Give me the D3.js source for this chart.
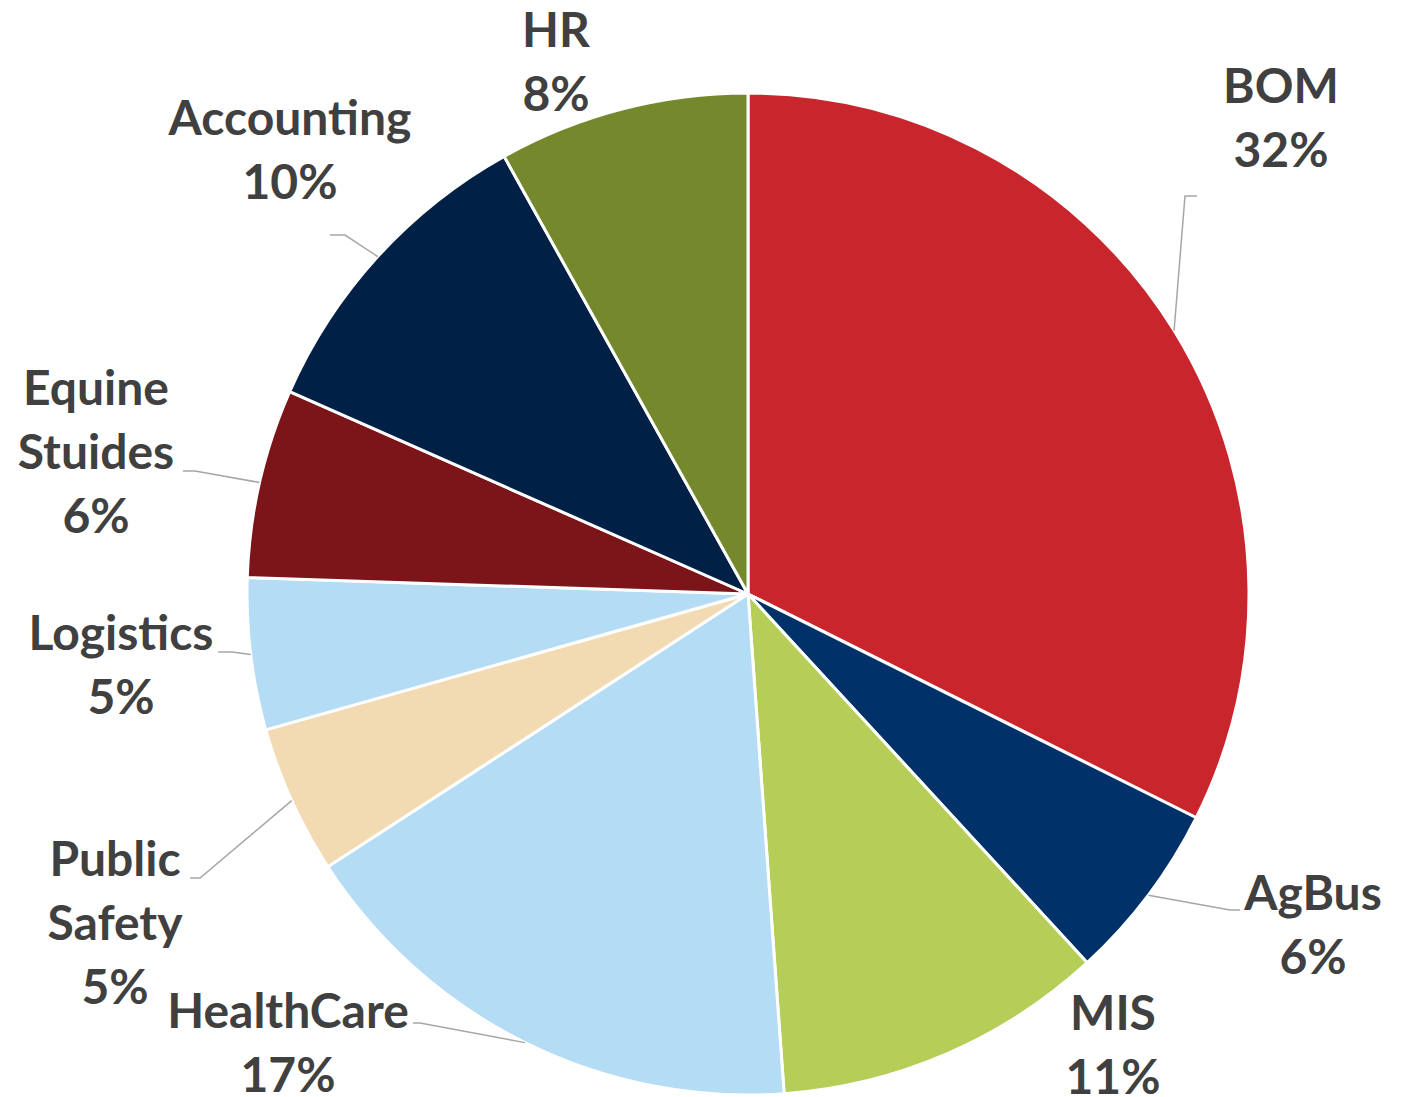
<!DOCTYPE html>
<html>
<head>
<meta charset="utf-8">
<script src="https://cdn.jsdelivr.net/npm/d3@7"></script>
<style>
  html, body { margin: 0; padding: 0; background: #fff; }
  svg { display: block; }
  .label { font-family: Lato, "Open Sans", sans-serif; font-weight: 700; fill: #404040; }
</style>
</head>
<body>
<figure id="pie" style="margin:0"></figure>
<script>
// departments, clockwise from 12 o'clock
const departments = ["BOM", "AgBus", "MIS", "HealthCare", "Public Safety", "Logistics", "Equine Stuides", "Accounting", "HR"];
// share of total (percent)
const shares = [32.4, 5.8, 10.7, 17.0, 4.8, 4.9, 6.1, 10.3, 8.1];
const sliceColors = ["#C8252D", "#003269", "#B5CE58", "#B4DCF4", "#F2DAB2", "#B4DCF4", "#7B151A", "#002046", "#73892C"];

// label placement: centre x, first baseline y, word-wrapped lines, leader elbow
const labelLayout = {
  "BOM":            { x: 1281, y: 103, lines: ["BOM"], elbow: [1185, 196], end: 1197 },
  "AgBus":          { x: 1313, y: 910, lines: ["AgBus"], elbow: [1230, 910], end: 1240 },
  "MIS":            { x: 1113, y: 1030, lines: ["MIS"] },
  "HealthCare":     { x: 288, y: 1028, lines: ["HealthCare"], elbow: [420, 1023], end: 413 },
  "Public Safety":  { x: 115, y: 876, lines: ["Public", "Safety"], elbow: [200, 878], end: 190 },
  "Logistics":      { x: 121, y: 650, lines: ["Logistics"], elbow: [232, 652], end: 218 },
  "Equine Stuides": { x: 96, y: 405, lines: ["Equine", "Stuides"], elbow: [195, 471], end: 183 },
  "Accounting":     { x: 290, y: 135, lines: ["Accounting"], elbow: [345, 235], end: 330 },
  "HR":             { x: 556, y: 47, lines: ["HR"] }
};

const width = 1408, height = 1097;
const cx = 748, cy = 594, radius = 501;
const lineHeight = 64;
const fontSize = 48;

const svg = d3.select("figure#pie").append("svg")
  .attr("width", width)
  .attr("height", height)
  .attr("viewBox", `0 0 ${width} ${height}`);

const data = departments.map((name, i) => ({ name: name, value: shares[i], color: sliceColors[i] }));
const total = d3.sum(data, (d) => d.value);

const pie = d3.pie().sort(null).value((d) => d.value);
const arcs = pie(data);
const arc = d3.arc().innerRadius(0).outerRadius(radius);
const edge = d3.arc().innerRadius(radius).outerRadius(radius);

const g = svg.append("g").attr("transform", "translate(" + cx + "," + cy + ")");

g.selectAll("path.slice")
  .data(arcs)
  .enter()
  .append("path")
  .attr("class", "slice")
  .attr("d", arc)
  .attr("fill", (d) => d.data.color)
  .attr("stroke", "#fff")
  .attr("stroke-width", 3)
  .attr("stroke-linejoin", "round");

// leader lines
arcs.forEach((d) => {
  const lay = labelLayout[d.data.name];
  if (!lay.elbow) return;
  const p = edge.centroid(d);
  const pts = [[cx + p[0], cy + p[1]], lay.elbow, [lay.end, lay.elbow[1]]];
  svg.append("polyline")
    .attr("points", pts.map((q) => q.join(",")).join(" "))
    .attr("fill", "none")
    .attr("stroke", "#A6A6A6")
    .attr("stroke-width", 1.5);
});

// labels
arcs.forEach((d) => {
  const lay = labelLayout[d.data.name];
  const lines = lay.lines.concat([Math.round(d.data.value / total * 100) + "%"]);
  const t = svg.append("text")
    .attr("class", "label")
    .attr("text-anchor", "middle")
    .attr("font-size", fontSize);
  lines.forEach((s, i) => {
    t.append("tspan")
      .attr("x", lay.x)
      .attr("y", lay.y + i * lineHeight)
      .text(s);
  });
});
</script>
</body>
</html>
